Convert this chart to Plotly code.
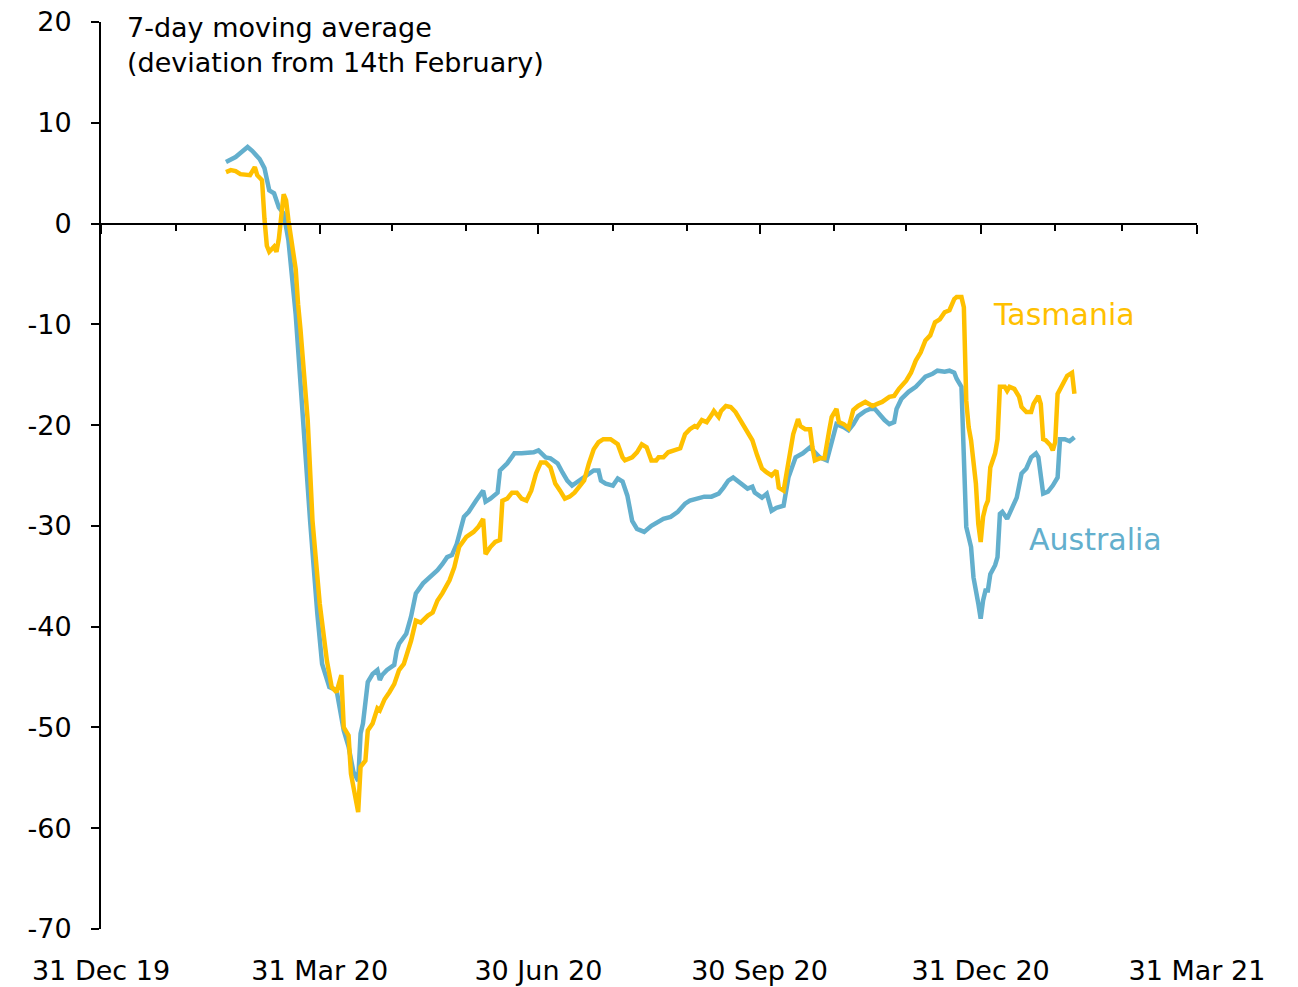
import pandas as pd
import plotly.graph_objects as go

# Days since 31 Dec 2019, and values
aus_days = [52, 56, 58, 61, 63, 66, 68, 70, 72, 74, 76, 78, 81, 84, 87, 90, 92, 95, 98,
            101, 103, 105, 107, 108, 109, 111, 113, 115, 116, 117, 119, 122, 123, 124,
            127, 129, 131, 134, 137, 140, 142, 144, 146, 148, 151, 153, 156, 159, 160,
            162, 165, 166, 169, 172, 175, 178, 180, 182, 183, 185, 187, 190, 192, 194,
            196, 199, 202, 205, 207, 208, 210, 213, 215, 217, 219, 221, 223, 226, 229,
            232, 234, 237, 240, 243, 245, 248, 251, 254, 257, 259, 261, 263, 266, 269,
            271, 272, 275, 277, 279, 281, 284, 286, 289, 292, 295, 297, 299, 302, 304,
            306, 309, 311, 313, 315, 318, 320, 322, 324, 326, 328, 330, 331, 333, 336,
            339, 341, 343, 346, 348, 351, 353, 355, 356, 358, 359, 360, 362, 363, 365,
            366, 367, 368, 369, 370, 372, 373, 374, 375, 377, 379, 381, 383, 385, 387,
            389, 390, 392, 394, 396, 398, 399, 401, 403, 405]
aus_vals = [6.1, 6.6, 7.0, 7.6, 7.2, 6.4, 5.5, 3.3, 3.0, 1.6, 1.0, -1.7, -9.0, -19.5, -29.5,
            -38.7, -43.7, -46.0, -46.3, -50.3, -51.9, -54.4, -55.3, -50.6, -49.6, -45.5,
            -44.7, -44.3, -45.3, -44.8, -44.3, -43.8, -42.4, -41.7, -40.7, -39.0, -36.7,
            -35.7, -35.1, -34.4, -33.8, -33.1, -32.9, -31.8, -29.1, -28.6, -27.5, -26.5,
            -27.6, -27.3, -26.7, -24.5, -23.8, -22.8, -22.8, -22.7, -22.7, -22.5, -22.7,
            -23.2, -23.3, -23.8, -24.7, -25.5, -26.0, -25.5, -25.0, -24.5, -24.5, -25.5,
            -25.8, -26.0, -25.3, -25.6, -27.0, -29.5, -30.3, -30.6, -30.0, -29.6, -29.3,
            -29.1, -28.6, -27.8, -27.5, -27.3, -27.1, -27.1, -26.8, -26.2, -25.5, -25.2,
            -25.7, -26.3, -26.1, -26.7, -27.2, -26.8, -28.5, -28.2, -28.0, -25.2, -23.2,
            -22.8, -22.2, -22.7, -23.2, -23.5, -21.5, -19.9, -20.2, -20.5, -19.9, -19.1,
            -18.6, -18.4, -18.4, -19.0, -19.5, -19.9, -19.7, -18.4, -17.4, -16.7, -16.2,
            -15.7, -15.2, -14.9, -14.6, -14.7, -14.6, -14.8, -15.4, -16.2, -24.0, -30.1,
            -32.1, -35.1, -37.7, -39.2, -37.4, -36.4, -36.4, -34.8, -33.9, -33.1, -28.8,
            -28.6, -29.3, -28.1, -27.2, -24.8, -24.3, -23.2, -22.8, -23.2, -26.8, -26.6,
            -26.0, -25.2, -21.4, -21.4, -21.6, -21.2]

tas_days = [52, 54, 56, 58, 62, 64, 65, 67, 68, 69, 70, 72, 73, 74, 76, 77, 78, 81, 82,
            83, 86, 88, 91, 94, 96, 98, 100, 101, 103, 104, 107, 108, 110, 111, 113, 115,
            116, 118, 120, 122, 124, 126, 129, 131, 133, 136, 138, 140, 142, 145, 147,
            149, 152, 155, 157, 159, 160, 162, 164, 166, 167, 169, 171, 173, 175, 177,
            179, 181, 183, 185, 187, 189, 191, 193, 195, 197, 199, 201, 203, 205, 207,
            209, 212, 215, 217, 218, 221, 223, 225, 227, 229, 231, 232, 234, 236, 239,
            241, 243, 245, 247, 248, 250, 252, 254, 255, 257, 258, 260, 262, 264, 266,
            268, 271, 273, 275, 277, 279, 281, 282, 284, 285, 287, 288, 290, 291, 293,
            295, 296, 297, 299, 301, 303, 304, 306, 307, 309, 311, 313, 315, 318, 321,
            323, 325, 328, 330, 332, 335, 337, 339, 341, 343, 345, 347, 349, 351, 353,
            355, 356, 358, 359, 360, 361, 362, 364, 365, 366, 367, 368, 369, 370, 372,
            373, 374, 376, 377, 378, 380, 382, 383, 385, 387, 388, 390, 391, 392, 393,
            395, 396, 397, 398, 400, 402, 404, 405]
tas_vals = [5.1, 5.3, 5.2, 4.9, 4.8, 5.6, 4.8, 4.3, 0.5, -2.2, -2.8, -2.3, -2.8, -1.5, 2.9,
            2.3, 0.3, -4.5, -8.0, -10.5, -19.5, -29.5, -37.7, -43.4, -46.0, -46.5, -44.8,
            -50.0, -50.8, -54.6, -58.4, -53.9, -53.3, -50.3, -49.6, -48.1, -48.3, -47.2,
            -46.5, -45.7, -44.3, -43.7, -41.4, -39.4, -39.6, -38.9, -38.6, -37.4, -36.7,
            -35.4, -34.1, -32.1, -31.1, -30.6, -30.1, -29.3, -32.8, -32.1, -31.6, -31.4,
            -27.5, -27.3, -26.7, -26.7, -27.3, -27.5, -26.5, -24.8, -23.7, -23.7, -24.2,
            -25.8, -26.5, -27.3, -27.1, -26.7, -26.1, -25.5, -23.8, -22.4, -21.7, -21.4,
            -21.4, -21.9, -23.2, -23.5, -23.2, -22.7, -21.9, -22.2, -23.5, -23.5, -23.2,
            -23.2, -22.7, -22.5, -22.3, -20.9, -20.4, -20.1, -20.2, -19.5, -19.7, -19.0,
            -18.6, -19.2, -18.6, -18.1, -18.2, -18.7, -19.5, -20.2, -21.5, -23.0, -24.3,
            -24.7, -25.0, -24.5, -26.2, -26.5, -25.2, -22.8, -20.9, -19.4, -20.1, -20.4,
            -20.4, -22.2, -23.5, -23.3, -23.3, -20.5, -19.2, -18.4, -19.7, -19.9, -20.3,
            -18.5, -18.1, -17.7, -18.1, -17.9, -17.7, -17.2, -17.1, -16.4, -15.6, -14.8,
            -13.6, -12.8, -11.6, -11.1, -9.8, -9.5, -8.8, -8.6, -7.5, -7.3, -7.3, -8.3,
            -17.6, -20.2, -21.5, -25.8, -29.8, -31.6, -29.1, -28.1, -27.5, -24.2, -22.8,
            -21.4, -16.2, -16.2, -16.6, -16.2, -16.4, -17.2, -18.2, -18.7, -18.7, -17.9,
            -17.1, -17.9, -21.4, -21.5, -22.0, -22.5, -21.7, -16.9, -15.9, -15.1, -14.8,
            -16.9]

base_date = pd.Timestamp("2019-12-31")
aus_dates = base_date + pd.to_timedelta(aus_days, unit="D")
tas_dates = base_date + pd.to_timedelta(tas_days, unit="D")

major_ticks = ["2019-12-31", "2020-03-31", "2020-06-30", "2020-09-30", "2020-12-31", "2021-03-31"]
major_labels = ["31 Dec 19", "31 Mar 20", "30 Jun 20", "30 Sep 20", "31 Dec 20", "31 Mar 21"]
minor_ticks = ["2020-01-31", "2020-02-29", "2020-04-30", "2020-05-31", "2020-07-31",
               "2020-08-31", "2020-10-31", "2020-11-30", "2021-01-31", "2021-02-28"]
y_ticks = [20, 10, 0, -10, -20, -30, -40, -50, -60, -70]
y_labels = ["20", "10", "0", "-10", "-20", "-30", "-40", "-50", "-60", "-70"]

AUS_COL = "#63AFCD"
TAS_COL = "#FFC000"
FONT = "DejaVu Sans"
FS = 27

fig = go.Figure()
fig.add_trace(go.Scatter(x=aus_dates, y=aus_vals, mode="lines", name="Australia",
                         line=dict(color=AUS_COL, width=4.5)))
fig.add_trace(go.Scatter(x=tas_dates, y=tas_vals, mode="lines", name="Tasmania",
                         line=dict(color=TAS_COL, width=4.5)))

x_range = ["2019-12-31", "2021-03-31"]

fig.update_layout(
    width=1298, height=987,
    margin=dict(l=101, r=101, t=22, b=58),
    paper_bgcolor="white", plot_bgcolor="white",
    showlegend=False,
    font=dict(family=FONT, size=FS, color="black"),
    xaxis=dict(type="date", range=x_range, tickmode="array", tickvals=major_ticks,
               ticktext=major_labels, showgrid=False, showline=False, zeroline=False,
               ticks="", tickfont=dict(size=FS), ticklabelstandoff=23, automargin=False,
               ticklabeloverflow="allow"),
    xaxis2=dict(type="date", range=x_range, overlaying="x", anchor="free",
                position=70 / 90, showline=True, linecolor="black", linewidth=2,
                tickmode="array", tickvals=major_ticks, showticklabels=False,
                ticks="outside", ticklen=9, tickwidth=2, tickcolor="black",
                showgrid=False, zeroline=False, automargin=False,
                minor=dict(tickmode="array", tickvals=minor_ticks, ticks="outside",
                           ticklen=6, tickwidth=2, tickcolor="black", showgrid=False)),
    yaxis=dict(range=[-70, 20], tickmode="array", tickvals=y_ticks, ticktext=y_labels,
               showgrid=False, zeroline=False,
               showline=True, linecolor="black", linewidth=2, ticks="outside",
               ticklen=8, tickwidth=2, tickcolor="black", tickfont=dict(size=FS),
               ticklabelstandoff=14, automargin=False, ticklabeloverflow="allow"),
)

# invisible trace to activate the axis drawn along zero
fig.add_trace(go.Scatter(x=[x_range[0]], y=[None], xaxis="x2", showlegend=False,
                         hoverinfo="skip"))

fig.add_annotation(xref="paper", yref="paper", x=0.022, y=1.013, xanchor="left",
                   yanchor="top", align="left", showarrow=False,
                   text="7-day moving average<br>(deviation from 14th February)",
                   font=dict(size=FS, color="black", family=FONT))
fig.add_annotation(xref="paper", yref="paper", x=0.812, y=0.678, xanchor="left",
                   yanchor="middle", showarrow=False, text="Tasmania",
                   font=dict(size=30, color=TAS_COL, family=FONT))
fig.add_annotation(xref="paper", yref="paper", x=0.845, y=0.429, xanchor="left",
                   yanchor="middle", showarrow=False, text="Australia",
                   font=dict(size=30, color=AUS_COL, family=FONT))

fig.write_html("out.html", config={"displayModeBar": False},
               post_script="document.body.style.margin='0';")
